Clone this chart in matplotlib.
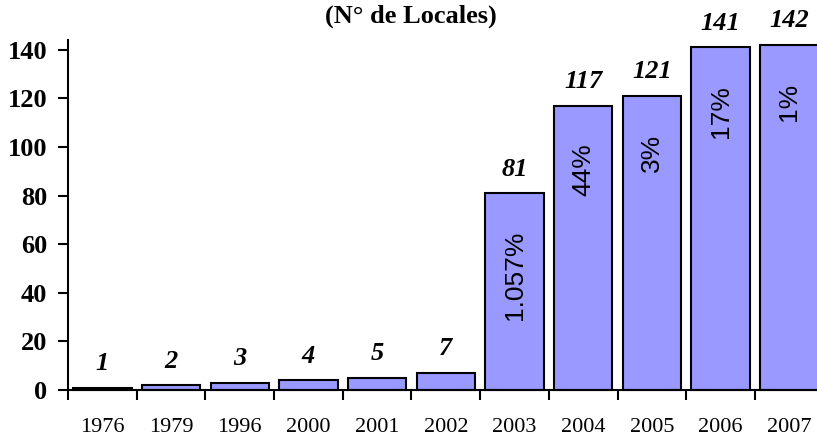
import matplotlib.pyplot as plt

# === Data ===
years = ["1976", "1979", "1996", "2000", "2001", "2002", "2003", "2004", "2005", "2006", "2007"]
locales = [1, 2, 3, 4, 5, 7, 81, 117, 121, 141, 142]
growth = ["", "", "", "", "", "", "1.057%", "44%", "3%", "17%", "1%"]

# === Style ===
plt.rcParams.update({
    "font.family": ["Liberation Serif", "DejaVu Serif"],
    "axes.linewidth": 1.5,
})

fig = plt.figure(figsize=(8.17, 4.38), dpi=100)
ax = fig.add_axes([0.0832, 0.1096, 0.925, 0.799])

x = list(range(len(years)))
bars = ax.bar(x, locales, width=0.85, color="#9999FF", edgecolor="black",
              linewidth=1.5, clip_on=False, zorder=2)

ax.set_xlim(-0.5, len(years) - 0.5)
ax.set_ylim(0, 144)
ax.set_yticks(range(0, 141, 20))
ax.set_yticklabels([str(v) for v in range(0, 141, 20)], fontsize=19, fontweight="bold")

# x ticks sit between categories, labels under each bar
ax.set_xticks([i - 0.5 for i in x])
ax.set_xticklabels([])
ax.set_xticks(x, minor=True)
ax.set_xticklabels(years, minor=True, fontsize=16)
ax.tick_params(axis="x", which="major", direction="out", length=7, width=1.5)
ax.tick_params(axis="x", which="minor", length=0, pad=20)
ax.tick_params(axis="y", direction="out", length=7, width=1.5, pad=8)

for side in ["top", "right"]:
    ax.spines[side].set_visible(False)

# value labels above bars
for xi, v in zip(x, locales):
    ax.annotate(str(v), (xi, v), xytext=(0, 9), textcoords="offset points",
                ha="center", va="bottom", fontsize=19, fontweight="bold",
                fontstyle="italic", annotation_clip=False)

# growth labels inside bars
for xi, v, g in zip(x, locales, growth):
    if g:
        ax.annotate(g, (xi, v), xytext=(0, -27), textcoords="offset points",
                    ha="center", va="top", rotation=90, fontsize=19,
                    family=["Liberation Sans", "DejaVu Sans"], annotation_clip=False)

fig.text(0.503, 0.948, "(N° de Locales)", ha="center", va="baseline",
         fontsize=19, fontweight="bold")

plt.savefig("out.png", dpi=100)
plt.close()
